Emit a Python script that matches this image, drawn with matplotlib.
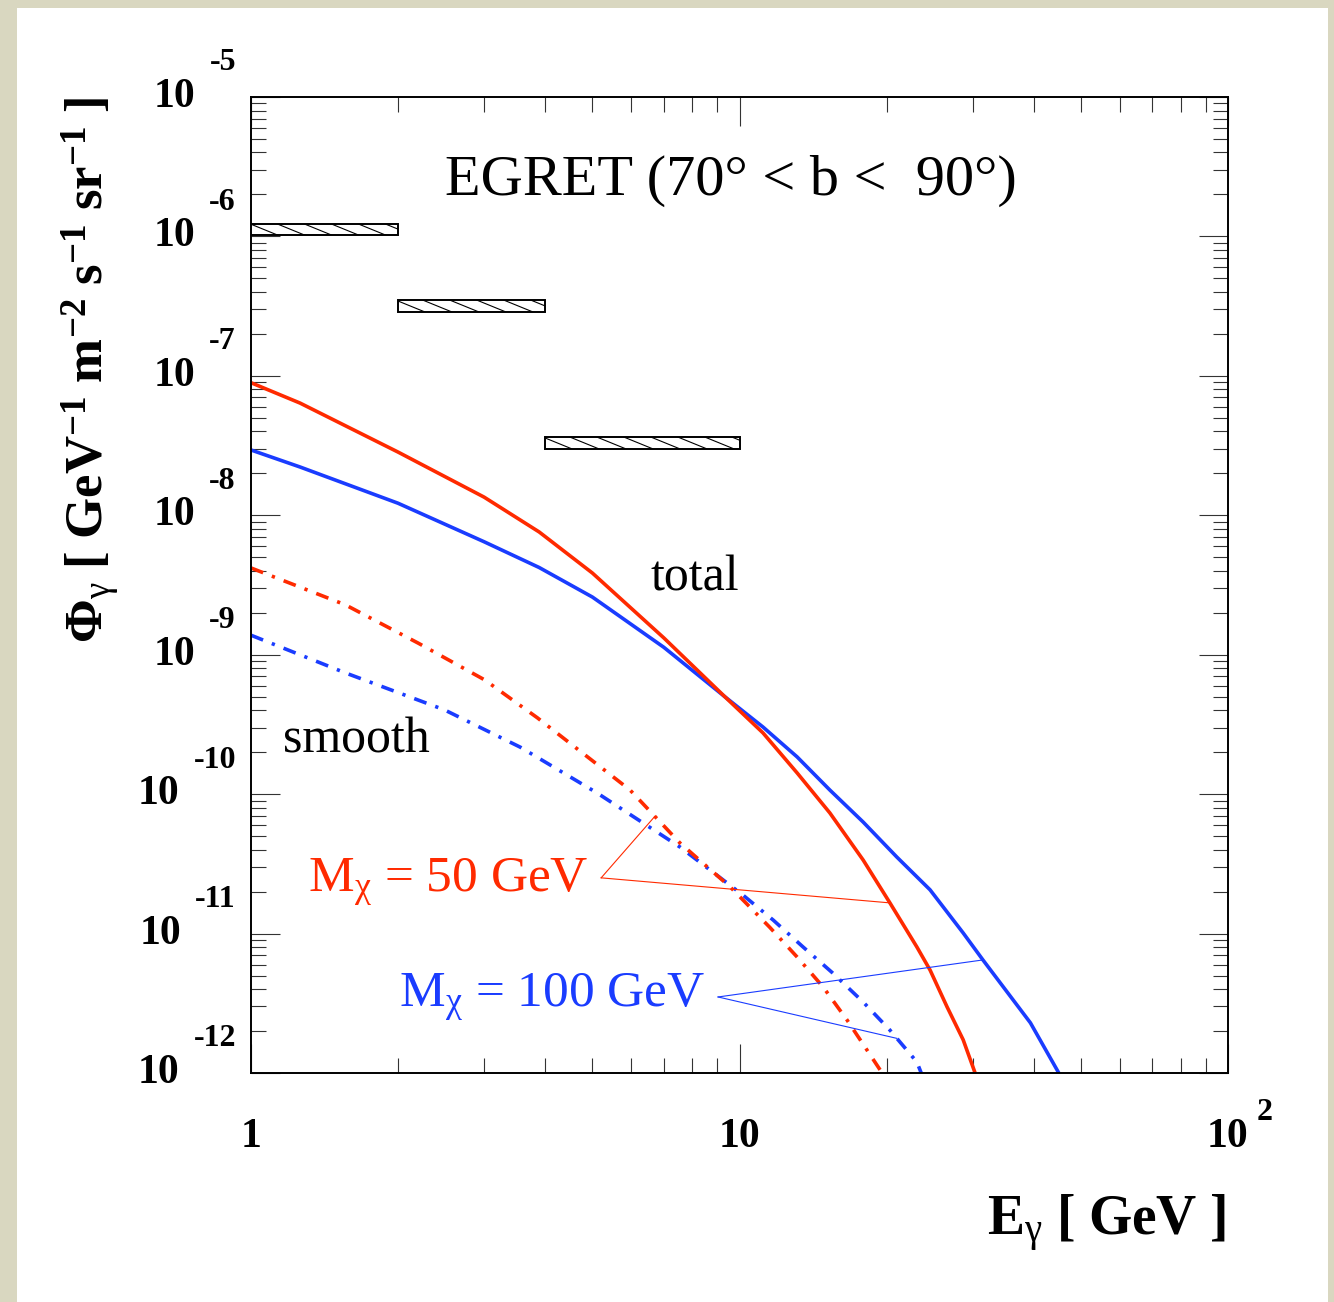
import numpy as np
import matplotlib.pyplot as plt
import matplotlib.transforms as mtransforms
from matplotlib.collections import LineCollection
from matplotlib.patches import Rectangle
from matplotlib.ticker import LogLocator, NullFormatter

plt.rcParams['font.family'] = ['Liberation Serif', 'DejaVu Serif']
plt.rcParams['mathtext.fontset'] = 'custom'
plt.rcParams['mathtext.rm'] = 'Liberation Serif'
plt.rcParams['mathtext.it'] = 'Liberation Serif:italic'
plt.rcParams['mathtext.bf'] = 'Liberation Serif:bold'

# EGRET measurement bins (E range, flux band)
egret_e_lo = [1.0, 2.0, 4.0]
egret_e_hi = [2.0, 4.0, 10.0]
egret_phi_lo = [1.02e-6, 2.87e-7, 2.99e-8]
egret_phi_hi = [1.23e-6, 3.50e-7, 3.65e-8]

# total flux, M_chi = 50 GeV
e_tot_50 = [1.0, 1.26, 2.0, 3.0, 3.89, 5.0, 7.0, 9.33, 11.17, 13.12, 15.31, 17.91,
            20.32, 23.07, 24.55, 26.6, 28.7, 30.3]
phi_tot_50 = [8.93e-8, 6.38e-8, 2.84e-8, 1.35e-8, 7.59e-9, 3.85e-9, 1.32e-9, 5.0e-10,
              2.75e-10, 1.42e-10, 7.33e-11, 3.37e-11, 1.66e-11, 8.02e-12, 5.48e-12,
              2.98e-12, 1.73e-12, 1.02e-12]

# total flux, M_chi = 100 GeV
e_tot_100 = [1.0, 1.26, 2.0, 3.0, 3.89, 5.0, 7.0, 9.33, 11.17, 13.12, 15.31, 17.91,
             20.99, 24.55, 28.7, 31.5, 39.4, 44.9]
phi_tot_100 = [2.94e-8, 2.22e-8, 1.22e-8, 6.46e-9, 4.22e-9, 2.59e-9, 1.13e-9, 5.0e-10,
               3.03e-10, 1.85e-10, 1.07e-10, 6.31e-11, 3.54e-11, 2.06e-11, 1.01e-11,
               6.47e-12, 2.29e-12, 1.02e-12]

# smooth halo contribution
e_smooth_50 = [1.0, 1.56, 2.2, 3.01, 3.86, 5.97, 7.55, 9.57, 11.53, 13.12, 14.83, 16.6,
               18.24, 19.41]
phi_smooth_50 = [4.19e-9, 2.28e-9, 1.21e-9, 6.59e-10, 3.52e-10, 1.07e-10, 4.47e-11,
                 2.16e-11, 1.11e-11, 6.79e-12, 4.14e-12, 2.40e-12, 1.46e-12, 1.05e-12]
e_smooth_100 = [1.0, 1.56, 2.49, 3.56, 5.11, 7.55, 10.16, 11.72, 13.49, 15.52, 17.91,
                20.32, 23.07, 23.55]
phi_smooth_100 = [1.38e-9, 7.41e-10, 4.02e-10, 2.17e-10, 1.02e-10, 4.18e-11, 1.89e-11,
                  1.25e-11, 8.02e-12, 5.21e-12, 3.23e-12, 2.03e-12, 1.20e-12, 1.0e-12]

y_exponents = [-12, -11, -10, -9, -8, -7, -6, -5]
x_exponents = [0, 1, 2]

RED = '#ff2a00'
BLUE = '#1a3cff'


def loglog_interp(e, xs, ys):
    return 10 ** np.interp(np.log10(e), np.log10(xs), np.log10(ys))


fig = plt.figure(figsize=(13.34, 13.02), dpi=100)
fig.patch.set_facecolor('#d9d7c0')
fig.add_artist(Rectangle((17 / 1334, 0), 1311 / 1334, 1 - 8 / 1302,
                         transform=fig.transFigure, facecolor='white',
                         edgecolor='none', zorder=0))

ax = fig.add_axes([251 / 1334, 1 - 1073 / 1302, 977 / 1334, 976 / 1302])
ax.set_xscale('log')
ax.set_yscale('log')
ax.set_xlim(1, 100)
ax.set_ylim(1e-12, 1e-5)

# EGRET boxes, hatched with shallow "\" strokes like ROOT fill style 3005
step, slope = 27.0, 11.0 / 27.0   # stroke spacing (px) and drop per px
for lo, hi, plo, phi in zip(egret_e_lo, egret_e_hi, egret_phi_lo, egret_phi_hi):
    box = Rectangle((lo, plo), hi - lo, phi - plo, facecolor='white',
                    edgecolor='black', lw=1.4, zorder=3)
    ax.add_patch(box)
    (x0, y0), (x1, y1) = ax.transData.transform([(lo, plo), (hi, phi)])
    run = (y1 - y0) / slope
    starts = np.arange(x0 - run, x1 + step, step)
    segs = [[(s / fig.dpi, y1 / fig.dpi), ((s + run) / fig.dpi, y0 / fig.dpi)]
            for s in starts]
    hatch = LineCollection(segs, colors='black', linewidths=0.8,
                           transform=fig.dpi_scale_trans, zorder=3)
    ax.add_collection(hatch)
    hatch.set_clip_path(box)

lw = 2.6
dashdot = (0, (3.6, 2.6, 0.9, 2.6))
ax.plot(e_tot_100, phi_tot_100, color=BLUE, lw=lw)
ax.plot(e_tot_50, phi_tot_50, color=RED, lw=lw)
ax.plot(e_smooth_100, phi_smooth_100, color=BLUE, lw=lw, ls=dashdot)
ax.plot(e_smooth_50, phi_smooth_50, color=RED, lw=lw, ls=dashdot)

# pointer lines from the mass labels to the curves
v50 = (5.21, 2.51e-11)
for e_tip, xs, ys in [(6.71, e_smooth_50, phi_smooth_50), (20.32, e_tot_50, phi_tot_50)]:
    ax.plot([v50[0], e_tip], [v50[1], loglog_interp(e_tip, xs, ys)], color=RED, lw=0.8)
v100 = (9.04, 3.51e-12)
for e_tip, xs, ys in [(21.0, e_smooth_100, phi_smooth_100), (31.5, e_tot_100, phi_tot_100)]:
    ax.plot([v100[0], e_tip], [v100[1], loglog_interp(e_tip, xs, ys)], color=BLUE, lw=0.8)

ax.text(4.9, 1.99e-11, r'M$_{\mathrm{\chi}}$ = 50 GeV', color=RED, fontsize=37,
        ha='right', va='baseline')
ax.text(8.5, 2.97e-12, r'M$_{\mathrm{\chi}}$ = 100 GeV', color=BLUE, fontsize=37,
        ha='right', va='baseline')
ax.text(9.6, 1.98e-6, 'EGRET (70° < b <  90°)', fontsize=42, ha='center', va='baseline')
ax.text(6.56, 2.91e-9, 'total', fontsize=36, ha='left', va='baseline')
ax.text(1.163, 2.0e-10, 'smooth', fontsize=36, ha='left', va='baseline')

# ticks
for axis in (ax.xaxis, ax.yaxis):
    axis.set_major_locator(LogLocator(base=10, numticks=20))
    axis.set_minor_locator(LogLocator(base=10, subs=np.arange(2, 10), numticks=100))
    axis.set_major_formatter(NullFormatter())
    axis.set_minor_formatter(NullFormatter())
ax.tick_params(which='both', direction='in', top=True, right=True, color='#333333', width=0.8)
ax.tick_params(which='major', length=21)
ax.tick_params(which='minor', length=10.5)
for sp in ax.spines.values():
    sp.set_linewidth(1.4)

# ROOT-style tick labels: bold "10" with a raised exponent
ytr = mtransforms.blended_transform_factory(ax.transAxes, ax.transData)
for k in y_exponents:
    off = mtransforms.ScaledTranslation(-0.15, 0.34, fig.dpi_scale_trans)
    sup = ax.text(0, 10.0 ** k, str(k), transform=ytr + off, fontsize=23,
                  fontweight='bold', ha='right', va='center')
    ax.annotate('10', xy=(0, 0.5), xycoords=sup, xytext=(-10, -24.5),
                textcoords='offset points', fontsize=30, fontweight='bold',
                ha='right', va='center')

xtr = mtransforms.blended_transform_factory(ax.transData, ax.transAxes)
for k in x_exponents:
    off = mtransforms.ScaledTranslation(0, -0.64, fig.dpi_scale_trans)
    base = ax.text(10.0 ** k, 0, '1' if k == 0 else '10', transform=xtr + off,
                   fontsize=30, fontweight='bold', ha='center', va='center')
    if k > 1:
        ax.annotate(str(k), xy=(1, 0.5), xycoords=base, xytext=(5.5, 18),
                    textcoords='offset points', fontsize=23, fontweight='bold',
                    ha='left', va='center')

fig.text(1226 / 1334, 1 - 1235 / 1302,
         r'$\mathbf{E}_{\mathrm{\gamma}}\ \mathbf{[\ GeV\ ]}$',
         fontsize=40, ha='right', va='baseline')
fig.text(90 / 1334, 1 - 97 / 1302,
         r'$\mathbf{\Phi}_{\mathrm{\gamma}}\ \mathbf{[\ GeV^{-1}\ m^{-2}\ s^{-1}\ sr^{-1}\ ]}$',
         fontsize=38, rotation=90, ha='center', va='top')

fig.savefig('out.png', dpi=100)
